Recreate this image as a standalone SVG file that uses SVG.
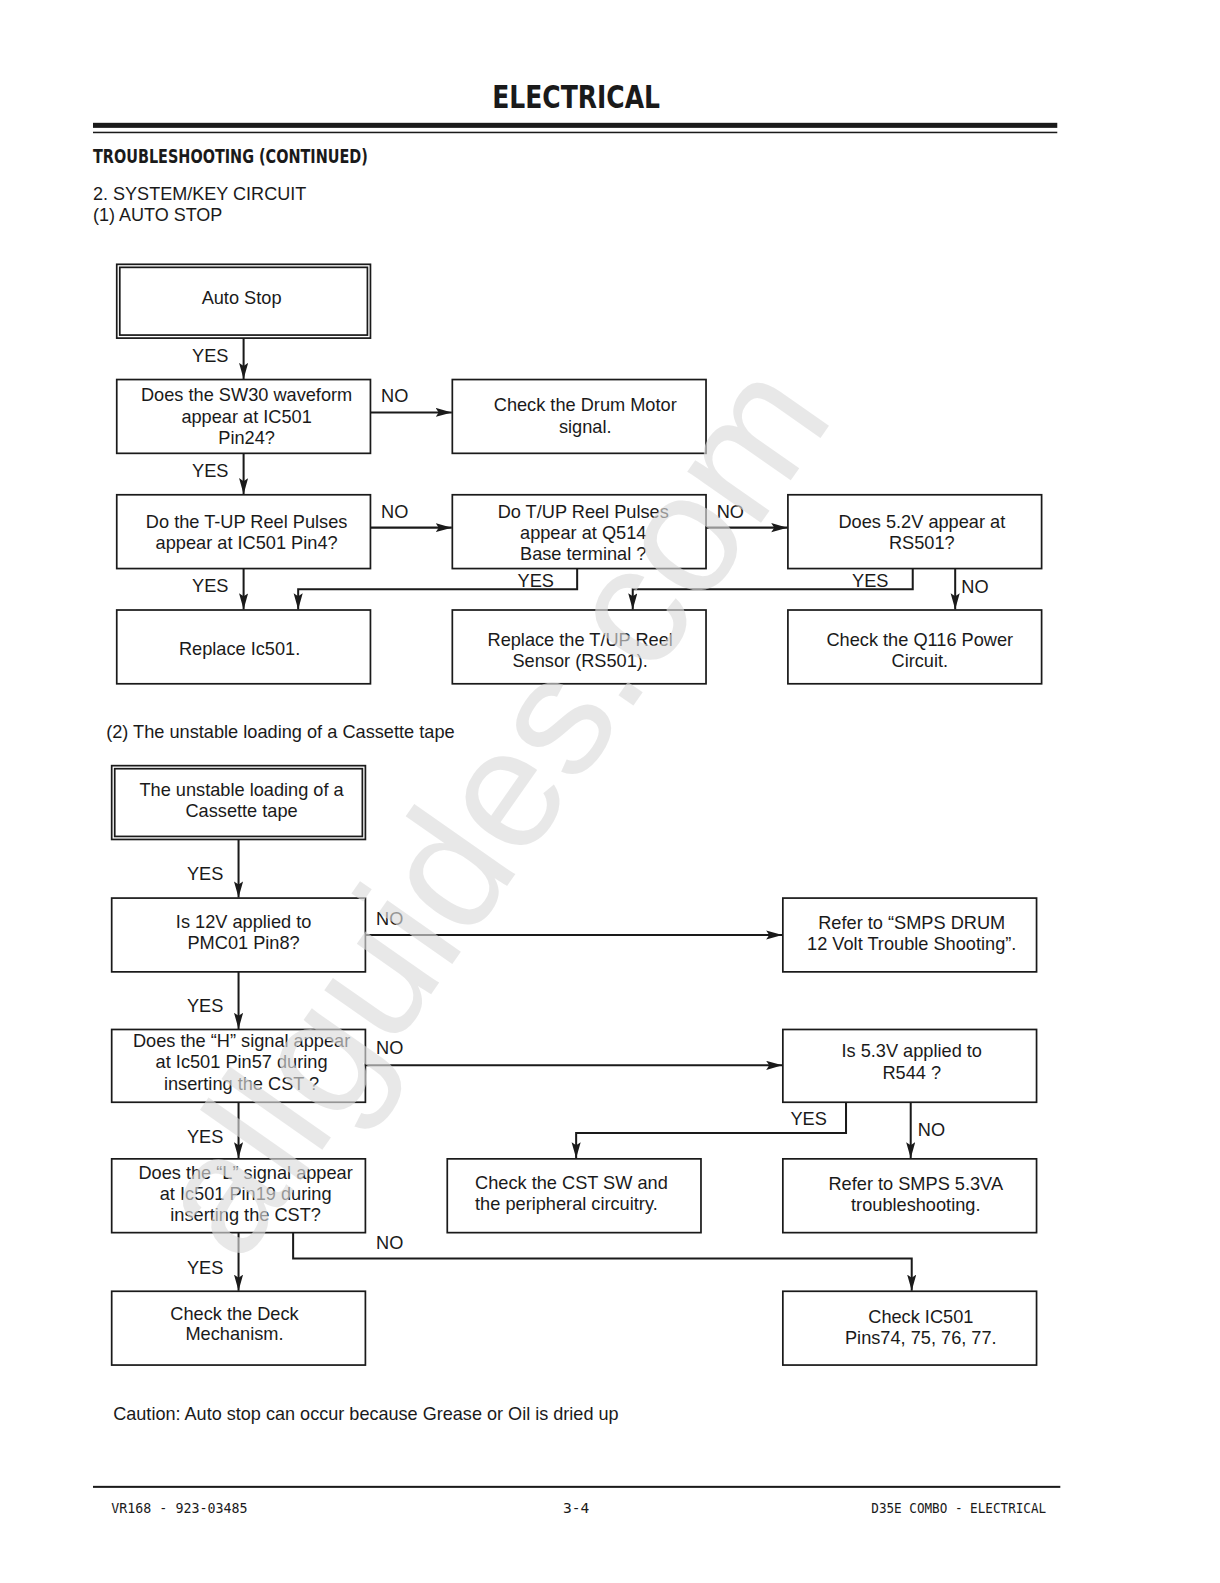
<svg xmlns="http://www.w3.org/2000/svg" width="1220" height="1583" viewBox="0 0 1220 1583">
<style>
.bx{fill:#fff;stroke:#1a1a1a;stroke-width:1.7}
.t{font-family:"Liberation Sans",Arial,sans-serif;font-size:18px;fill:#1a1a1a;text-anchor:middle}
.l{font-family:"Liberation Sans",Arial,sans-serif;font-size:18px;fill:#1a1a1a}
.c{fill:none;stroke:#1a1a1a;stroke-width:2}
.h{font-family:"DejaVu Sans Condensed","DejaVu Sans",sans-serif;font-weight:bold;fill:#1a1a1a}
.f{font-family:"DejaVu Sans Mono",monospace;fill:#1a1a1a;font-size:14.5px}
</style>
<defs>
<marker id="ar" markerUnits="userSpaceOnUse" markerWidth="17" markerHeight="10" refX="16" refY="4.5" orient="auto">
<path d="M0,0 L16,4.5 L0,9 L3,4.5 z" fill="#1a1a1a"/>
</marker>
</defs>
<rect width="1220" height="1583" fill="#fff"/>
<g transform="scale(1.01078)">
<g id="header">
<text class="h" x="570" y="107" font-size="32" text-anchor="middle" textLength="166" lengthAdjust="spacingAndGlyphs">ELECTRICAL</text>
<rect x="92" y="121.5" width="954" height="5" fill="#1a1a1a"/>
<rect x="92" y="130.3" width="954" height="1.5" fill="#1a1a1a"/>
<text class="h" x="92" y="161" font-size="18.5" textLength="272" lengthAdjust="spacingAndGlyphs">TROUBLESHOOTING (CONTINUED)</text>
<text class="l" x="92" y="198" textLength="211" lengthAdjust="spacingAndGlyphs">2. SYSTEM/KEY CIRCUIT</text>
<text class="l" x="92" y="219" textLength="128" lengthAdjust="spacingAndGlyphs">(1) AUTO STOP</text>
</g>

<g id="connectors">
<line class="c" x1="241" y1="334" x2="241" y2="375" marker-end="url(#ar)"/>
<line class="c" x1="366" y1="408" x2="447" y2="408" marker-end="url(#ar)"/>
<line class="c" x1="241" y1="448" x2="241" y2="489" marker-end="url(#ar)"/>
<line class="c" x1="366" y1="522" x2="447" y2="522" marker-end="url(#ar)"/>
<line class="c" x1="698" y1="522" x2="779" y2="522" marker-end="url(#ar)"/>
<line class="c" x1="241" y1="562" x2="241" y2="603" marker-end="url(#ar)"/>
<polyline class="c" points="571,562 571,583 295,583 295,603" marker-end="url(#ar)"/>
<polyline class="c" points="903,562 903,583 626,583 626,603" marker-end="url(#ar)"/>
<line class="c" x1="945" y1="562" x2="945" y2="603" marker-end="url(#ar)"/>

<line class="c" x1="236" y1="830" x2="236" y2="888" marker-end="url(#ar)"/>
<line class="c" x1="361" y1="925" x2="774" y2="925" marker-end="url(#ar)"/>
<line class="c" x1="236" y1="961" x2="236" y2="1018" marker-end="url(#ar)"/>
<line class="c" x1="361" y1="1054" x2="774" y2="1054" marker-end="url(#ar)"/>
<line class="c" x1="236" y1="1090" x2="236" y2="1146" marker-end="url(#ar)"/>
<polyline class="c" points="837,1090 837,1121 570,1121 570,1146" marker-end="url(#ar)"/>
<line class="c" x1="901" y1="1090" x2="901" y2="1146" marker-end="url(#ar)"/>
<line class="c" x1="236" y1="1219" x2="236" y2="1277" marker-end="url(#ar)"/>
<polyline class="c" points="290,1219 290,1245 902,1245 902,1277" marker-end="url(#ar)"/>

<text class="l" x="190" y="358">YES</text>
<text class="l" x="377" y="398">NO</text>
<text class="l" x="190" y="472">YES</text>
<text class="l" x="377" y="512">NO</text>
<text class="l" x="709" y="512">NO</text>
<text class="l" x="190" y="586">YES</text>
<text class="l" x="512" y="581">YES</text>
<text class="l" x="843" y="581">YES</text>
<text class="l" x="951" y="587">NO</text>

<text class="l" x="185" y="871">YES</text>
<text class="l" x="372" y="915">NO</text>
<text class="l" x="185" y="1001">YES</text>
<text class="l" x="372" y="1043">NO</text>
<text class="l" x="185" y="1131">YES</text>
<text class="l" x="782" y="1113">YES</text>
<text class="l" x="908" y="1124">NO</text>
<text class="l" x="185" y="1260">YES</text>
<text class="l" x="372" y="1236">NO</text>
</g>

<g id="n-autostop">
<rect class="bx" x="115.5" y="261.5" width="251" height="73"/>
<rect class="bx" x="118.5" y="264.5" width="245" height="67"/>
<text class="t" x="239" y="301">Auto Stop</text>
</g>
<g id="n-sw30">
<rect class="bx" x="115.5" y="375.5" width="251" height="73"/>
<text class="t" x="244" y="397">Does the SW30 waveform</text>
<text class="t" x="244" y="418">appear at IC501</text>
<text class="t" x="244" y="439">Pin24?</text>
</g>
<g id="n-drum">
<rect class="bx" x="447.5" y="375.5" width="251" height="73"/>
<text class="t" x="579" y="407">Check the Drum Motor</text>
<text class="t" x="579" y="428">signal.</text>
</g>
<g id="n-tup">
<rect class="bx" x="115.5" y="489.5" width="251" height="73"/>
<text class="t" x="244" y="522">Do the T-UP Reel Pulses</text>
<text class="t" x="244" y="543">appear at IC501 Pin4?</text>
</g>
<g id="n-q514">
<rect class="bx" x="447.5" y="489.5" width="251" height="73"/>
<text class="t" x="577" y="512">Do T/UP Reel Pulses</text>
<text class="t" x="577" y="533">appear at Q514</text>
<text class="t" x="577" y="554">Base terminal ?</text>
</g>
<g id="n-52v">
<rect class="bx" x="779.5" y="489.5" width="251" height="73"/>
<text class="t" x="912" y="522">Does 5.2V appear at</text>
<text class="t" x="912" y="543">RS501?</text>
</g>
<g id="n-ic501">
<rect class="bx" x="115.5" y="603.5" width="251" height="73"/>
<text class="t" x="237" y="648">Replace Ic501.</text>
</g>
<g id="n-sensor">
<rect class="bx" x="447.5" y="603.5" width="251" height="73"/>
<text class="t" x="574" y="639">Replace the T/UP Reel</text>
<text class="t" x="574" y="660">Sensor (RS501).</text>
</g>
<g id="n-q116">
<rect class="bx" x="779.5" y="603.5" width="251" height="73"/>
<text class="t" x="910" y="639">Check the Q116 Power</text>
<text class="t" x="910" y="660">Circuit.</text>
</g>

<text class="l" x="105" y="730">(2) The unstable loading of a Cassette tape</text>

<g id="n-unstable">
<rect class="bx" x="110.5" y="757.5" width="251" height="73"/>
<rect class="bx" x="113.5" y="760.5" width="245" height="67"/>
<text class="t" x="239" y="788">The unstable loading of a</text>
<text class="t" x="239" y="808">Cassette tape</text>
</g>
<g id="n-12v">
<rect class="bx" x="110.5" y="888.5" width="251" height="73"/>
<text class="t" x="241" y="918">Is 12V applied to</text>
<text class="t" x="241" y="939">PMC01 Pin8?</text>
</g>
<g id="n-smps12">
<rect class="bx" x="774.5" y="888.5" width="251" height="73"/>
<text class="t" x="902" y="919">Refer to “SMPS DRUM</text>
<text class="t" x="902" y="940">12 Volt Trouble Shooting”.</text>
</g>
<g id="n-h">
<rect class="bx" x="110.5" y="1018.5" width="251" height="72"/>
<text class="t" x="239" y="1036">Does the “H” signal appear</text>
<text class="t" x="239" y="1057">at Ic501 Pin57 during</text>
<text class="t" x="239" y="1078">inserting the CST ?</text>
</g>
<g id="n-53v">
<rect class="bx" x="774.5" y="1018.5" width="251" height="72"/>
<text class="t" x="902" y="1046">Is 5.3V applied to</text>
<text class="t" x="902" y="1067">R544 ?</text>
</g>
<g id="n-l">
<rect class="bx" x="110.5" y="1146.5" width="251" height="73"/>
<text class="t" x="243" y="1166">Does the “L” signal appear</text>
<text class="t" x="243" y="1187">at Ic501 Pin19 during</text>
<text class="t" x="243" y="1208">inserting the CST?</text>
</g>
<g id="n-cstsw">
<rect class="bx" x="442.5" y="1146.5" width="251" height="73"/>
<text class="l" x="470" y="1176">Check the CST SW and</text>
<text class="l" x="470" y="1197">the peripheral circuitry.</text>
</g>
<g id="n-smps53">
<rect class="bx" x="774.5" y="1146.5" width="251" height="73"/>
<text class="t" x="906" y="1177">Refer to SMPS 5.3VA</text>
<text class="t" x="906" y="1198">troubleshooting.</text>
</g>
<g id="n-deck">
<rect class="bx" x="110.5" y="1277.5" width="251" height="73"/>
<text class="t" x="232" y="1306">Check the Deck</text>
<text class="t" x="232" y="1326">Mechanism.</text>
</g>
<g id="n-pins">
<rect class="bx" x="774.5" y="1277.5" width="251" height="73"/>
<text class="t" x="911" y="1309">Check IC501</text>
<text class="t" x="911" y="1330">Pins74, 75, 76, 77.</text>
</g>

<text class="l" x="112" y="1405" textLength="500" lengthAdjust="spacingAndGlyphs">Caution: Auto stop can occur because Grease or Oil is dried up</text>

<g id="footer">
<rect x="92" y="1470" width="957" height="2" fill="#1a1a1a"/>
<text class="f" x="110" y="1497" textLength="135" lengthAdjust="spacingAndGlyphs">VR168 - 923-03485</text>
<text class="f" x="570" y="1497" font-size="18" text-anchor="middle" textLength="26" lengthAdjust="spacingAndGlyphs">3-4</text>
<text class="f" x="1035" y="1497" text-anchor="end" textLength="173" lengthAdjust="spacingAndGlyphs">D35E COMBO - ELECTRICAL</text>
</g>

<text x="532" y="833" transform="rotate(-55 532 833)" font-family="Liberation Sans,Arial,sans-serif" font-size="168" text-anchor="middle" fill="rgb(219,219,219)" fill-opacity="0.64">allguides.com</text>
</g>
</svg>
